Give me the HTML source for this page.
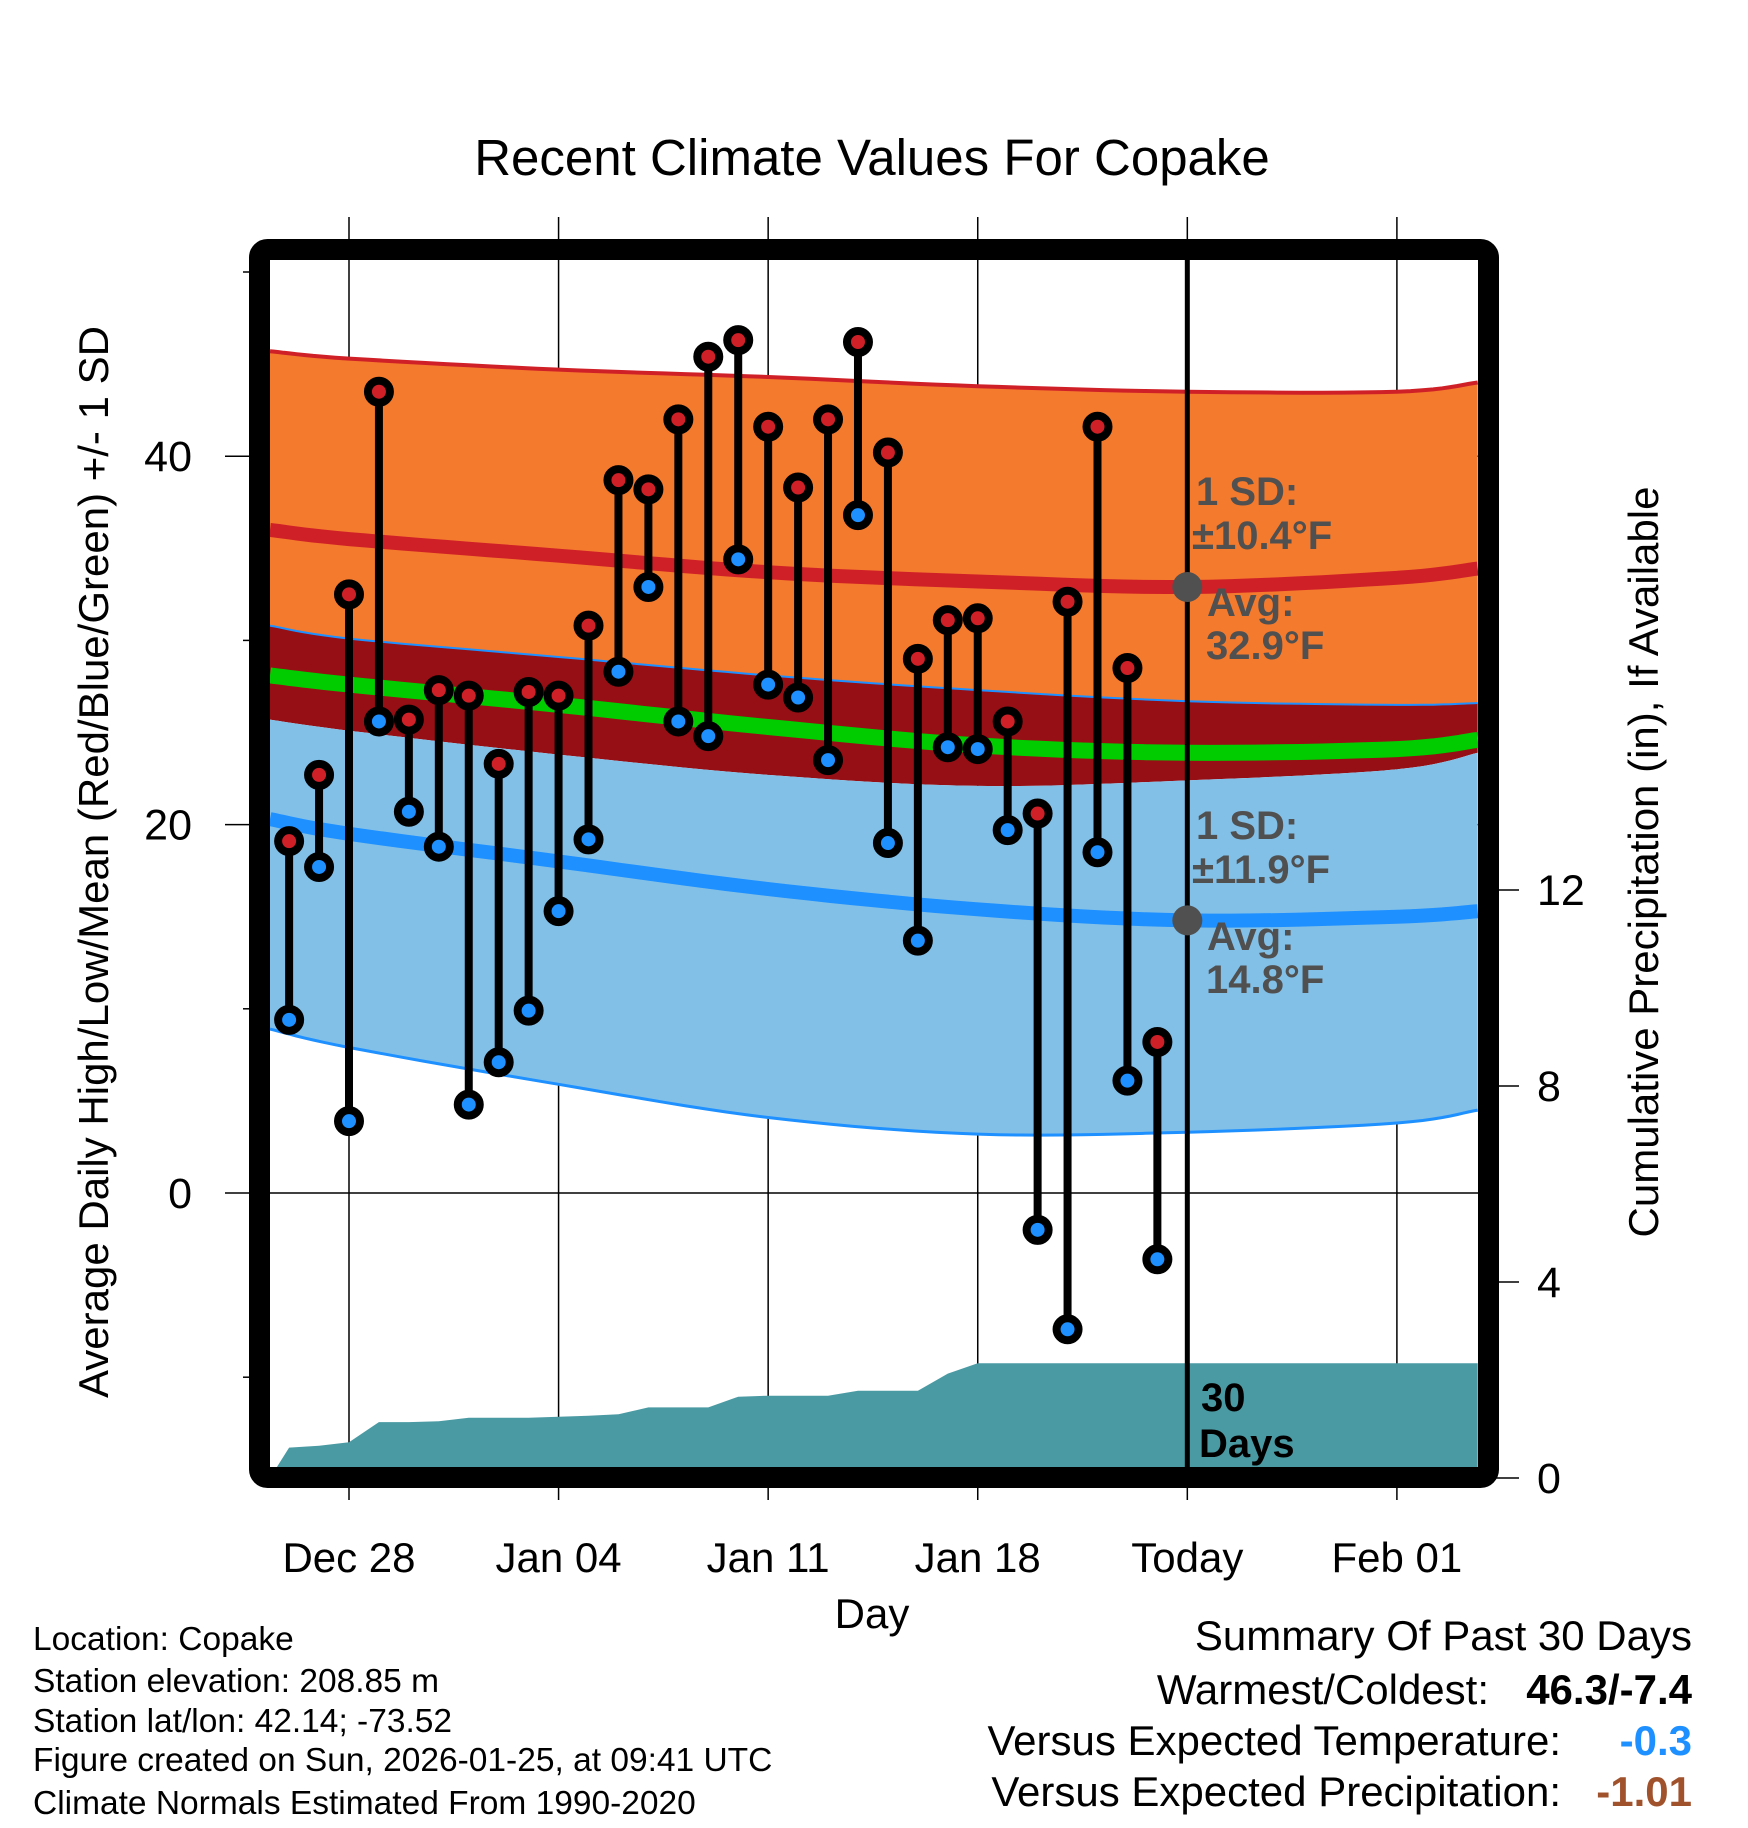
<!DOCTYPE html>
<html><head><meta charset="utf-8"><style>
html,body{margin:0;padding:0;background:#fff;}
svg{display:block;font-family:"Liberation Sans",sans-serif;}
</style></head><body>
<svg id="chart" width="1748" height="1828" viewBox="0 0 1748 1828" xmlns="http://www.w3.org/2000/svg">
<defs><clipPath id="clip"><rect x="270" y="260" width="1208" height="1207"/></clipPath></defs>
<text x="872" y="175" font-size="51" text-anchor="middle">Recent Climate Values For Copake</text>
<g id="grid"></g>
<g id="plot" clip-path="url(#clip)"></g>
<g id="marks"></g>
<rect x="259.5" y="249.5" width="1229" height="1228" rx="8" fill="none" stroke="#000" stroke-width="21"/>
<g id="axes"></g>
<text transform="translate(108,862) rotate(-90)" font-size="42" text-anchor="middle">Average Daily High/Low/Mean (Red/Blue/Green) +/- 1 SD</text>
<text transform="translate(1658,862) rotate(-90)" font-size="42" text-anchor="middle">Cumulative Precipitation (in), If Available</text>
<text x="872" y="1628" font-size="42" text-anchor="middle">Day</text>
<g font-size="33.5">
<text x="33" y="1650">Location: Copake</text>
<text x="33" y="1692">Station elevation: 208.85 m</text>
<text x="33" y="1732">Station lat/lon: 42.14; -73.52</text>
<text x="33" y="1771">Figure created on Sun, 2026-01-25, at 09:41 UTC</text>
<text x="33" y="1814">Climate Normals Estimated From 1990-2020</text>
</g>
<g font-size="42">
<text x="1692" y="1650" text-anchor="end">Summary Of Past 30 Days</text>
<text x="1489" y="1704" text-anchor="end">Warmest/Coldest:</text>
<text x="1692" y="1704" text-anchor="end" font-weight="bold">46.3/-7.4</text>
<text x="1561" y="1755" text-anchor="end">Versus Expected Temperature:</text>
<text x="1692" y="1755" text-anchor="end" font-weight="bold" fill="#1e90ff">-0.3</text>
<text x="1561" y="1806" text-anchor="end">Versus Expected Precipitation:</text>
<text x="1692" y="1806" text-anchor="end" font-weight="bold" fill="#a0522d">-1.01</text>
</g>
</svg>
<script>
// ---- data ----
const dayLabels = ["Dec 28","Jan 04","Jan 11","Jan 18","Today","Feb 01"];
const labelDays = [0,7,14,21,28,35];
const yTicks = [0,20,40];
const yMinor = [-10,10,30,50];
const pTicks = [0,4,8,12];
const obsDays = [-2,-1,0,1,2,3,4,5,6,7,8,9,10,11,12,13,14,15,16,17,18,19,20,21,22,23,24,25,26,27];
const highs = [19.1,22.7,32.5,43.5,25.7,27.3,27.0,23.3,27.2,27.0,30.8,38.7,38.2,42.0,45.4,46.3,41.6,38.3,42.0,46.2,40.2,29.0,31.1,31.2,25.6,20.6,32.1,41.6,28.5,8.2];
const lows = [9.4,17.7,3.9,25.6,20.7,18.8,4.8,7.1,9.9,15.3,19.2,28.3,32.9,25.6,24.8,34.4,27.6,26.9,23.5,36.8,19.0,13.7,24.2,24.1,19.7,-2.0,-7.4,18.5,6.1,-3.6];
const precip = [0.62,0.66,0.73,1.14,1.14,1.16,1.23,1.23,1.23,1.25,1.27,1.30,1.44,1.44,1.44,1.66,1.68,1.68,1.68,1.78,1.78,1.78,2.13,2.34,2.34,2.34,2.34,2.34,2.34,2.34];
const bandDays = [-2.64,0,7,14,21,28,35,37.7];
const highUpper = [45.7,45.3,44.7,44.3,43.8,43.5,43.5,44.0];
const highMean = [36.0,35.5,34.6,33.7,33.2,32.9,33.4,33.9];
const highLower = [30.8,30.1,29.1,28.1,27.3,26.7,26.5,26.6];
const meanLine = [28.1,27.6,26.5,25.3,24.3,23.9,24.1,24.6];
const lowUpper = [25.7,25.1,23.8,22.7,22.1,22.4,23.0,23.9];
const lowMean = [20.3,19.5,18.0,16.5,15.4,14.8,15.0,15.3];
const lowLower = [8.9,7.9,5.9,4.1,3.2,3.3,3.8,4.5];
const todayDay = 28;
const todayHighAvg = 32.9, todayLowAvg = 14.8;

// ---- scales ----
const X = d => 349 + d*29.94;
const Y = t => 1193 - t*18.42;
const P = p => 1478 - p*49;
const NS="http://www.w3.org/2000/svg";
function mk(tag, attrs, parent){const e=document.createElementNS(NS,tag);for(const k in attrs)e.setAttribute(k,attrs[k]);parent.appendChild(e);return e;}
function curve(vals){
  const pts=bandDays.map((d,i)=>[X(d),Y(vals[i])]);
  const out=[];
  for(let i=0;i<pts.length-1;i++){
    const p0=pts[Math.max(i-1,0)],p1=pts[i],p2=pts[i+1],p3=pts[Math.min(i+2,pts.length-1)];
    for(let s=0;s<10;s++){const t=s/10,t2=t*t,t3=t2*t;
      const f=(a,b,c,d)=>0.5*((2*b)+(-a+c)*t+(2*a-5*b+4*c-d)*t2+(-a+3*b-3*c+d)*t3);
      out.push([f(p0[0],p1[0],p2[0],p3[0]),f(p0[1],p1[1],p2[1],p3[1])]);}
  }
  out.push(pts[pts.length-1]);return out;
}
const ps=a=>a.map(p=>p[0].toFixed(1)+","+p[1].toFixed(1)).join(" ");
function band(top,bot,fill,name,parent){
  const pts=curve(top).concat(curve(bot).reverse());
  const e=mk('polygon',{points:ps(pts),fill:fill},parent);
  
  
}
function line(vals,color,w,name,parent){
  const e=mk('polyline',{points:ps(curve(vals)),fill:'none',stroke:color,'stroke-width':w},parent);
  
  
}
const plot=document.getElementById('plot'), grid=document.getElementById('grid'), marks=document.getElementById('marks'), axes=document.getElementById('axes');

band(highUpper,highLower,'#f47a2e','high-sd-band',plot);
band(highLower,lowUpper,'#960f14','overlap-band',plot);
band(lowUpper,lowLower,'#82c0e8','low-sd-band',plot);
line(highUpper,'#d02027',4,'high-upper-line',plot);
line(highMean,'#d02027',14,'high-mean-line',plot);
line(highLower,'#1e90ff',2,'high-lower-line',plot);
line(meanLine,'#00cc00',16,'mean-line',plot);
line(lowMean,'#1e90ff',14,'low-mean-line',plot);
line(lowLower,'#1e90ff',3,'low-lower-line',plot);

{const pts=[[X(bandDays[0]),P(0)]];
 obsDays.forEach((d,i)=>pts.push([X(d),P(precip[i])]));
 pts.push([X(bandDays[bandDays.length-1]),P(precip[precip.length-1])]);
 pts.push([X(bandDays[bandDays.length-1]),P(0)]);
 const e=mk('polygon',{points:ps(pts),fill:'#4a9aa3'},plot);
 
 }

labelDays.forEach((d,i)=>{
  const g=mk('line',{x1:X(d),x2:X(d),y1:217,y2:1500,stroke:'#000','stroke-width':1.5},grid);
  
  
  const t=mk('text',{x:X(d),y:1572,'font-size':42,'text-anchor':'middle'},axes);
  t.textContent=dayLabels[i];
  
  
});
yTicks.forEach(v=>{
  const g=mk('line',{x1:225,x2:1478,y1:Y(v),y2:Y(v),stroke:'#000','stroke-width':1.5},grid);
  
  
  const t=mk('text',{x:192,y:Y(v)+15,'font-size':43,'text-anchor':'end'},axes);
  t.textContent=v;
  
  
});
yMinor.forEach(v=>{
  const g=mk('line',{x1:243,x2:255,y1:Y(v),y2:Y(v),stroke:'#000','stroke-width':1.5},axes);
  
  
});
pTicks.forEach(v=>{
  const g=mk('line',{x1:1490,x2:1519,y1:P(v),y2:P(v),stroke:'#000','stroke-width':1.5},axes);
  
  
  const t=mk('text',{x:1537,y:P(v)+15,'font-size':43},axes);
  t.textContent=v;
  
  
});

{const e=mk('line',{x1:X(todayDay),x2:X(todayDay),y1:258,y2:1468,stroke:'#000','stroke-width':5},marks);
 
 }
[[todayHighAvg,'today-high-avg-dot'],[todayLowAvg,'today-low-avg-dot']].forEach(([v,n])=>{
  const c=mk('circle',{cx:X(todayDay),cy:Y(v),r:15,fill:'#505050'},marks);
  
  
});

function txt(x,y,s,name,fill){const t=mk('text',{x:x,y:y,'font-size':40,'font-weight':'bold',fill:fill||'#505050'},marks);t.textContent=s;
  
  return t;}
txt(1196,505,'1 SD:','high-sd-label');
txt(1192,549,'±10.4°F','high-sd-value');
txt(1207,616,'Avg:','high-avg-label');
txt(1206,659,'32.9°F','high-avg-value');
txt(1196,839,'1 SD:','low-sd-label');
txt(1192,883,'±11.9°F','low-sd-value');
txt(1207,950,'Avg:','low-avg-label');
txt(1206,993,'14.8°F','low-avg-value');
txt(1201,1411,'30','days-count','#000');
txt(1199,1457,'Days','days-label','#000');

obsDays.forEach((d,i)=>{
  const g=mk('g',{},marks);
  
  
  mk('line',{x1:X(d),x2:X(d),y1:Y(highs[i]),y2:Y(lows[i]),stroke:'#000','stroke-width':8},g);
  const h=mk('circle',{cx:X(d),cy:Y(highs[i]),r:11,fill:'#d02027',stroke:'#000','stroke-width':8},g);
  
  
  const l=mk('circle',{cx:X(d),cy:Y(lows[i]),r:11,fill:'#1e90ff',stroke:'#000','stroke-width':8},g);
  
  
});
</script>
</body></html>
